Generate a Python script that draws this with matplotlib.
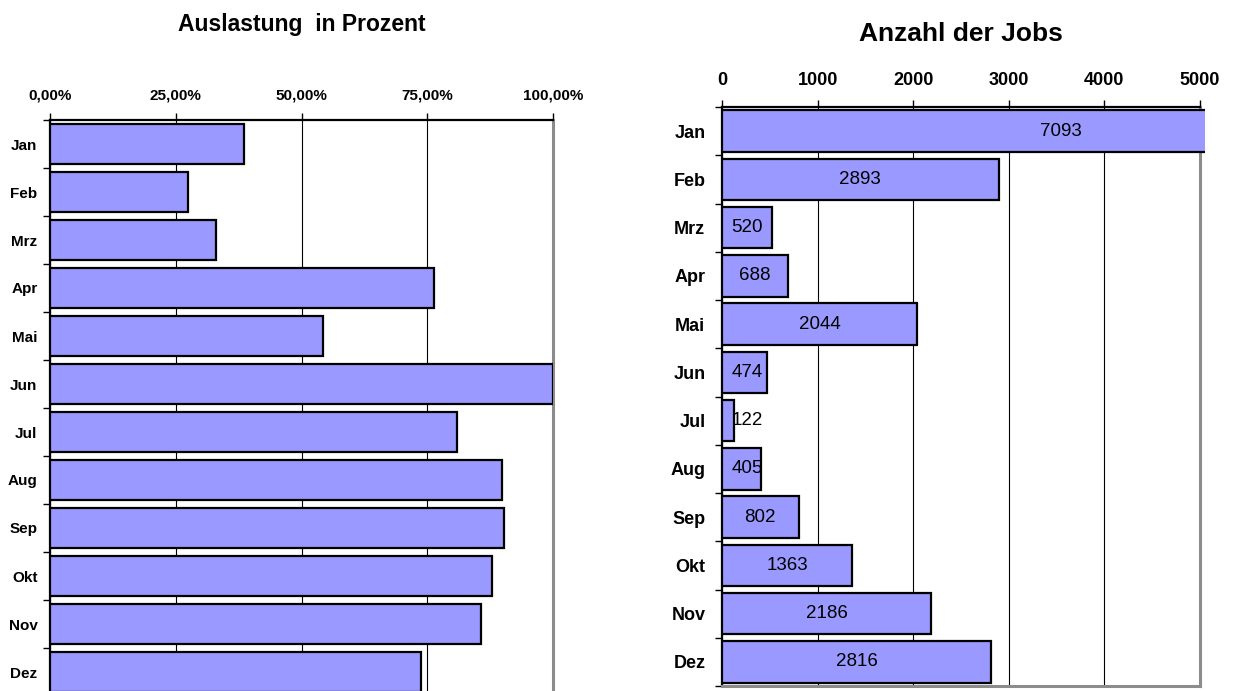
import matplotlib
matplotlib.use("Agg")
import matplotlib.pyplot as plt
from matplotlib.transforms import Bbox, TransformedBbox

plt.rcParams['font.family'] = ['Liberation Sans', 'DejaVu Sans']

months = ["Jan", "Feb", "Mrz", "Apr", "Mai", "Jun", "Jul", "Aug", "Sep", "Okt", "Nov", "Dez"]
auslastung = [38.6, 27.4, 33.0, 76.3, 54.3, 100.0, 80.9, 89.9, 90.3, 87.9, 85.6, 73.8]
jobs = [7093, 2893, 520, 688, 2044, 474, 122, 405, 802, 1363, 2186, 2816]
pct_ticks = [0, 25, 50, 75, 100]
pct_labels = ["0,00%", "25,00%", "50,00%", "75,00%", "100,00%"]
job_ticks = [0, 1000, 2000, 3000, 4000, 5000]
job_labels = ["0", "1000", "2000", "3000", "4000", "5000"]

BAR = "#9999FF"
W, H = 1236, 691
fig = plt.figure(figsize=(12.36, 6.91), dpi=100)


def setup(ax, xmax, ticks, labels, xfs, yfs, xpad, ypad, bottom_visible):
    n = len(months)
    ax.set_xlim(0, xmax)
    ax.set_ylim(n, 0)
    pos = list(range(n))
    ax.xaxis.tick_top()
    ax.set_xticks(ticks)
    ax.set_xticklabels(labels, fontsize=xfs, fontweight='bold')
    ax.tick_params(axis='x', direction='out', length=5, width=1, pad=xpad, top=True, bottom=False)
    ax.set_yticks([i for i in range(n + 1)])
    ax.set_yticklabels([])
    ax.set_yticks([p + 0.5 for p in pos], minor=True)
    ax.set_yticklabels(months, minor=True, fontsize=yfs, fontweight='bold')
    ax.tick_params(axis='y', which='major', direction='out', length=5, width=1)
    ax.tick_params(axis='y', which='minor', length=0, pad=ypad)
    ax.xaxis.grid(True, color='black', linewidth=0.8, zorder=0)
    ax.set_axisbelow(True)
    ax.spines['top'].set_color('black')
    ax.spines['top'].set_linewidth(1.6)
    ax.spines['left'].set_color('black')
    ax.spines['left'].set_linewidth(1.6)
    ax.spines['right'].set_color('#8c8c8c')
    ax.spines['right'].set_linewidth(2.2)
    ax.spines['bottom'].set_color('#8c8c8c')
    ax.spines['bottom'].set_linewidth(2.2)
    ax.spines['bottom'].set_visible(bottom_visible)


# Left chart
l1, r1, t1, b1 = 50, 553, 120, 696
ax1 = fig.add_axes([l1 / W, 1 - b1 / H, (r1 - l1) / W, (b1 - t1) / H])
setup(ax1, 100, pct_ticks, pct_labels, 11, 11, 7.5, 9, False)
ax1.barh([i + 0.5 for i in range(len(months))], auslastung, height=0.83,
         color=BAR, edgecolor='black', linewidth=1.6, zorder=3)
fig.text((l1 + r1) / 2 / W, 1 - 25 / H, "Auslastung  in Prozent", ha='center', va='center',
         fontsize=16.5, fontweight='bold')

# Right chart
l2, r2, t2, b2 = 722, 1200, 107, 686
ax2 = fig.add_axes([l2 / W, 1 - b2 / H, (r2 - l2) / W, (b2 - t2) / H])
setup(ax2, 5000, job_ticks, job_labels, 13, 13, 8, 12, True)
bars = ax2.barh([i + 0.5 for i in range(len(months))], jobs, height=0.86,
                color=BAR, edgecolor='black', linewidth=1.6, zorder=3)
clip = TransformedBbox(Bbox([[0, 0], [1.011, 1]]), ax2.transAxes)
for b in bars:
    b.set_clip_box(clip)
for i, v in enumerate(jobs):
    ax2.text(max(v / 2, 260), i + 0.5, str(v), ha='center', va='center', fontsize=13.5, zorder=4)
fig.text((l2 + r2) / 2 / W, 1 - 34 / H, "Anzahl der Jobs", ha='center', va='center',
         fontsize=19, fontweight='bold')

fig.savefig("out.png", dpi=100)
